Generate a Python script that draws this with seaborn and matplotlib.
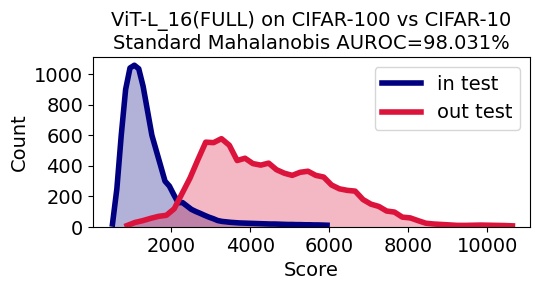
import numpy as np
import pandas as pd
import seaborn as sns
import matplotlib
matplotlib.use("Agg")
import matplotlib.pyplot as plt
from matplotlib.lines import Line2D
from matplotlib.ticker import MultipleLocator

# in-distribution (CIFAR-100 test) histogram: bin centers and counts
in_centers = [506, 617, 728, 839, 950, 1060, 1171, 1282, 1393, 1504,
              1615, 1726, 1837, 1947, 2058, 2169, 2280, 2391, 2502, 2613,
              2724, 2835, 2946, 3056, 3167, 3278, 3389, 3500, 3611, 3722,
              3833, 3943, 4054, 4165, 4276, 4387, 4498, 4609, 4720, 4830,
              4941, 5052, 5163, 5274, 5385, 5496, 5606, 5717, 5828, 5939]
in_counts = [20, 250, 600, 900, 1040, 1058, 1035, 920, 760, 600,
             500, 400, 300, 268, 212, 160, 160, 138, 116, 102,
             90, 77, 65, 55, 43, 37, 34, 31, 29, 27,
             26, 25, 24, 23, 22, 21, 20, 20, 19, 18,
             17, 17, 16, 16, 15, 15, 14, 14, 13, 12]

# out-of-distribution (CIFAR-10 test) histogram
out_centers = [876, 1075, 1274, 1473, 1672, 1871, 2070, 2269, 2468, 2668,
               2867, 3066, 3265, 3464, 3663, 3862, 4061, 4260, 4460, 4659,
               4858, 5057, 5256, 5455, 5654, 5853, 6052, 6251, 6450, 6650,
               6849, 7048, 7247, 7446, 7645, 7844, 8043, 8242, 8442, 8641,
               8840, 9039, 9238, 9437, 9636, 9835, 10034, 10233, 10432, 10632]
out_counts = [10, 30, 42, 57, 70, 77, 120, 220, 320, 440,
              555, 552, 578, 535, 435, 450, 415, 405, 418, 375,
              352, 338, 358, 365, 338, 327, 275, 250, 240, 235,
              180, 150, 135, 105, 98, 65, 60, 42, 25, 20,
              17, 14, 11, 11, 12, 13, 12, 11, 10, 8]

labels = ["in test", "out test"]
colors = ["navy", "crimson"]
title = "ViT-L_16(FULL) on CIFAR-100 vs CIFAR-10\nStandard Mahalanobis AUROC=98.031%"


def edges_from(centers):
    c = np.asarray(centers, dtype=float)
    w = np.mean(np.diff(c))
    return [float(v) for v in np.concatenate([c - w / 2, [c[-1] + w / 2]])]


plt.rcParams["font.size"] = 14
fig, ax = plt.subplots(figsize=(5.4, 2.9), dpi=100)

handles = []
for cen, cnt, lab, col in [(in_centers, in_counts, labels[0], colors[0]),
                           (out_centers, out_counts, labels[1], colors[1])]:
    df = pd.DataFrame({"score": cen, "count": cnt})
    e = edges_from(cen)
    sns.histplot(data=df, x="score", weights="count", bins=e, element="poly",
                 fill=True, color=col, alpha=0.3, linewidth=0, ax=ax)
    sns.histplot(data=df, x="score", weights="count", bins=e, element="poly",
                 fill=False, color=col, linewidth=4, ax=ax)
    handles.append(Line2D([], [], color=col, linewidth=4, label=lab))

ax.set_xlim(10, 11070)
ax.set_ylim(0, 1111)
ax.yaxis.set_major_locator(MultipleLocator(200))
ax.set_xlabel("Score")
ax.set_ylabel("Count")
ax.set_title(title, fontsize=14)
ax.legend(handles=handles, loc="upper right", fontsize=14)
fig.subplots_adjust(left=0.172, right=0.981, top=0.803, bottom=0.217)
fig.savefig("out.png", dpi=100)
